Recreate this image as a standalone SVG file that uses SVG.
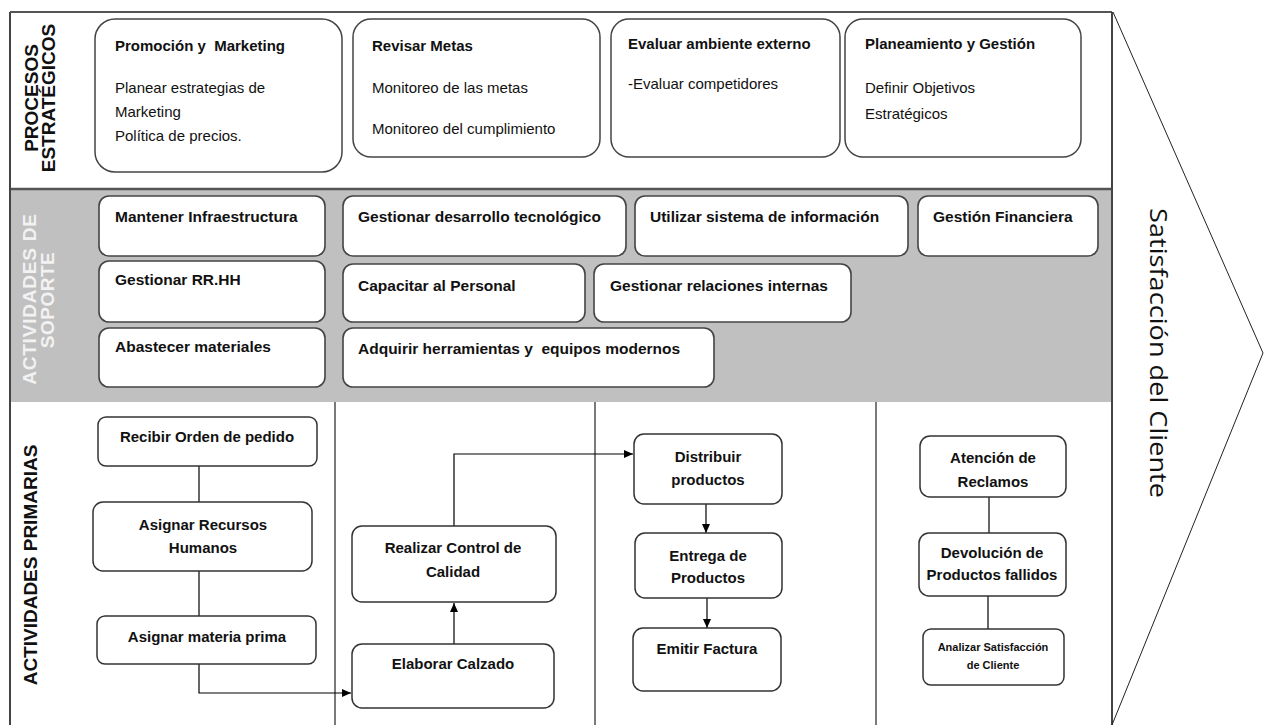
<svg xmlns="http://www.w3.org/2000/svg" width="1270" height="725" viewBox="0 0 1270 725">
<defs>
<marker id="arr" markerWidth="10" markerHeight="10" refX="9" refY="5" orient="auto" markerUnits="userSpaceOnUse">
<path d="M0,1 L9,5 L0,9 Z" fill="#000"/>
</marker>
<style>
.div{stroke:#333;stroke-width:1.3;fill:none}
.b1{fill:#fff;stroke:#444;stroke-width:1.5}
.b2{fill:#fff;stroke:#444;stroke-width:1.6}
.b3{fill:#fff;stroke:#333;stroke-width:1.5}
.t{font-family:"Liberation Sans",Arial,sans-serif;fill:#111}
.h{font-size:15px;font-weight:bold}
.n{font-size:15px}
.s{font-size:15.5px;font-weight:bold}
.p{font-size:15px;font-weight:bold;text-anchor:middle}
.lab{font-family:"Liberation Sans",Arial,sans-serif;font-size:19px;font-weight:bold;text-anchor:middle}
.c{stroke:#000;stroke-width:1.2;fill:none}
</style>
</defs>

<!-- background bands -->
<rect x="10" y="12" width="1102" height="713" fill="#fff"/>
<rect x="10" y="190" width="1102" height="212" fill="#c0c0c0"/>
<line x1="10" y1="189" x2="1112" y2="189" stroke="#555" stroke-width="2.5"/>
<line x1="10" y1="12" x2="1112" y2="12" stroke="#555" stroke-width="2"/>
<line x1="10" y1="12" x2="10" y2="725" stroke="#444" stroke-width="2"/>
<line x1="1112" y1="12" x2="1112" y2="725" stroke="#444" stroke-width="2"/>

<!-- column dividers in primary section -->
<g id="dividers">
<line class="div" x1="335" y1="402" x2="335" y2="725"/>
<line class="div" x1="595" y1="402" x2="595" y2="725"/>
<line class="div" x1="876" y1="402" x2="876" y2="725"/>
</g>

<!-- chevron -->
<g id="chevron">
<polyline points="1113,12 1263,353 1112,725" fill="none" stroke="#222" stroke-width="1"/>
<text class="t" transform="translate(1150,353) rotate(90)" text-anchor="middle" font-size="24" textLength="290" lengthAdjust="spacingAndGlyphs" style="font-family:'Open Sans','Liberation Sans',sans-serif">Satisfacción del Cliente</text>
</g>

<!-- section labels -->
<g id="label-estrategicos">
<text class="lab" fill="#111" transform="translate(38,98) rotate(-90)">PROCESOS</text>
<text class="lab" fill="#111" transform="translate(55,98) rotate(-90)">ESTRATÉGICOS</text>
</g>
<g id="label-soporte">
<text class="lab" fill="#f2f2f2" letter-spacing="0.8" transform="translate(36,299) rotate(-90)">ACTIVIDADES DE</text>
<text class="lab" fill="#f2f2f2" letter-spacing="0.5" transform="translate(54,300) rotate(-90)">SOPORTE</text>
</g>
<g id="label-primarias">
<text class="lab" fill="#111" transform="translate(37,565) rotate(-90)">ACTIVIDADES PRIMARIAS</text>
</g>

<!-- strategic processes -->
<g id="promocion">
<rect class="b1" x="95" y="19" width="247" height="153" rx="20"/>
<text class="t h" x="115" y="51" xml:space="preserve">Promoción y  Marketing</text>
<text class="t n" x="115" y="93">Planear estrategias de</text>
<text class="t n" x="115" y="117">Marketing</text>
<text class="t n" x="115" y="141">Política de precios.</text>
</g>
<g id="revisar">
<rect class="b1" x="353" y="19" width="247" height="138" rx="18"/>
<text class="t h" x="372" y="51">Revisar Metas</text>
<text class="t n" x="372" y="93">Monitoreo de las metas</text>
<text class="t n" x="372" y="134">Monitoreo del cumplimiento</text>
</g>
<g id="evaluar">
<rect class="b1" x="611" y="19" width="229" height="138" rx="18"/>
<text class="t h" x="628" y="49">Evaluar ambiente externo</text>
<text class="t n" x="628" y="89">-Evaluar competidores</text>
</g>
<g id="planeamiento">
<rect class="b1" x="845" y="19" width="236" height="138" rx="18"/>
<text class="t h" x="865" y="49">Planeamiento y Gestión</text>
<text class="t n" x="865" y="93">Definir Objetivos</text>
<text class="t n" x="865" y="119">Estratégicos</text>
</g>

<!-- support activities -->
<g id="infraestructura">
<rect class="b2" x="99" y="196" width="226" height="60" rx="10"/>
<text class="t s" x="115" y="222">Mantener Infraestructura</text>
</g>
<g id="rrhh">
<rect class="b2" x="99" y="261" width="226" height="61" rx="10"/>
<text class="t s" x="115" y="285">Gestionar RR.HH</text>
</g>
<g id="abastecer">
<rect class="b2" x="99" y="328" width="226" height="59" rx="10"/>
<text class="t s" x="115" y="352">Abastecer materiales</text>
</g>
<g id="desarrollo">
<rect class="b2" x="343" y="196" width="283" height="60" rx="10"/>
<text class="t s" x="358" y="222">Gestionar desarrollo tecnológico</text>
</g>
<g id="capacitar">
<rect class="b2" x="343" y="264" width="242" height="58" rx="10"/>
<text class="t s" x="358" y="291">Capacitar al Personal</text>
</g>
<g id="adquirir">
<rect class="b2" x="343" y="328" width="371" height="59" rx="10"/>
<text class="t s" x="358" y="354" xml:space="preserve">Adquirir herramientas y  equipos modernos</text>
</g>
<g id="sistema">
<rect class="b2" x="635" y="196" width="273" height="60" rx="10"/>
<text class="t s" x="650" y="222">Utilizar sistema de información</text>
</g>
<g id="relaciones">
<rect class="b2" x="594" y="264" width="257" height="58" rx="10"/>
<text class="t s" x="610" y="291">Gestionar relaciones internas</text>
</g>
<g id="financiera">
<rect class="b2" x="918" y="196" width="180" height="60" rx="10"/>
<text class="t s" x="933" y="222">Gestión Financiera</text>
</g>

<!-- connectors -->
<g id="connectors">
<line class="c" x1="199" y1="466" x2="199" y2="502"/>
<line class="c" x1="199" y1="571" x2="199" y2="616"/>
<polyline class="c" points="199,664 199,693 351,693" marker-end="url(#arr)"/>
<line class="c" x1="454" y1="644" x2="454" y2="603" marker-end="url(#arr)"/>
<polyline class="c" points="454,526 454,454 633,454" marker-end="url(#arr)"/>
<line class="c" x1="706" y1="504" x2="706" y2="533" marker-end="url(#arr)"/>
<line class="c" x1="707" y1="598" x2="707" y2="628" marker-end="url(#arr)"/>
<line class="c" x1="989" y1="497" x2="989" y2="533"/>
<line class="c" x1="988" y1="596" x2="988" y2="629"/>
</g>

<!-- primary activities -->
<g id="recibir">
<rect class="b3" x="98" y="417" width="219" height="49" rx="8"/>
<text class="t p" x="207" y="442">Recibir Orden de pedido</text>
</g>
<g id="asignar-rrhh">
<rect class="b3" x="93" y="502" width="219" height="69" rx="10"/>
<text class="t p" x="203" y="530">Asignar Recursos</text>
<text class="t p" x="203" y="553">Humanos</text>
</g>
<g id="materia">
<rect class="b3" x="97" y="616" width="219" height="48" rx="8"/>
<text class="t p" x="207" y="642">Asignar materia prima</text>
</g>
<g id="control">
<rect class="b3" x="352" y="526" width="204" height="76" rx="10"/>
<text class="t p" x="453" y="553">Realizar Control de</text>
<text class="t p" x="453" y="577">Calidad</text>
</g>
<g id="elaborar">
<rect class="b3" x="352" y="644" width="202" height="64" rx="10"/>
<text class="t p" x="453" y="669">Elaborar Calzado</text>
</g>
<g id="distribuir">
<rect class="b3" x="634" y="434" width="148" height="70" rx="10"/>
<text class="t p" x="708" y="462">Distribuir</text>
<text class="t p" x="708" y="485">productos</text>
</g>
<g id="entrega">
<rect class="b3" x="635" y="533" width="147" height="65" rx="10"/>
<text class="t p" x="708" y="561">Entrega de</text>
<text class="t p" x="708" y="583">Productos</text>
</g>
<g id="factura">
<rect class="b3" x="633" y="628" width="148" height="63" rx="10"/>
<text class="t p" x="707" y="654">Emitir Factura</text>
</g>
<g id="reclamos">
<rect class="b3" x="920" y="436" width="146" height="61" rx="10"/>
<text class="t p" x="993" y="463">Atención de</text>
<text class="t p" x="993" y="487">Reclamos</text>
</g>
<g id="devolucion">
<rect class="b3" x="919" y="533" width="147" height="63" rx="10"/>
<text class="t p" x="992" y="558">Devolución de</text>
<text class="t p" x="992" y="580">Productos fallidos</text>
</g>
<g id="analizar">
<rect class="b3" x="923" y="629" width="141" height="56" rx="8"/>
<text class="t p" x="993" y="651" style="font-size:11px">Analizar Satisfacción</text>
<text class="t p" x="993" y="669" style="font-size:11px">de Cliente</text>
</g>
</svg>
